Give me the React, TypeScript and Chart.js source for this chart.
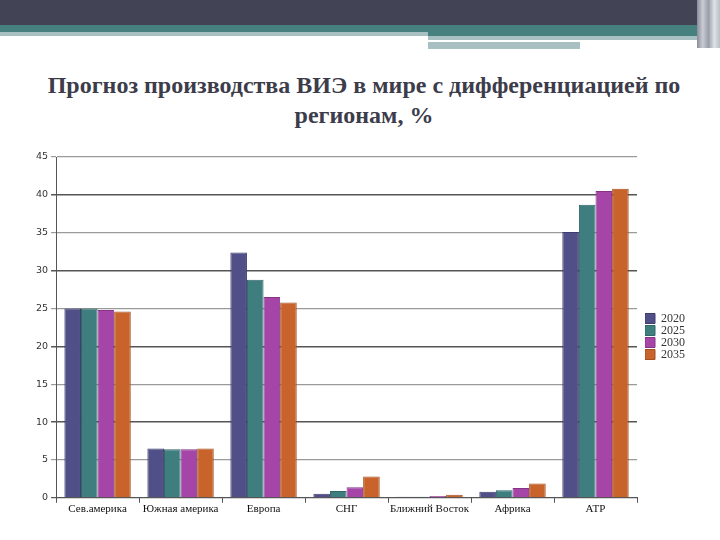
import React, { useEffect, useRef } from "react";
import { Chart, registerables } from "chart.js";

Chart.register(...registerables);

const categories = ["Сев.америка", "Южная америка", "Европа", "СНГ", "Ближний Восток", "Африка", "АТР"];
const seriesNames = ["2020", "2025", "2030", "2035"];
const v2020 = [25.0, 6.5, 32.4, 0.55, 0.15, 0.8, 35.1];
const v2025 = [25.0, 6.4, 28.8, 0.9, 0.15, 1.0, 38.7];
const v2030 = [24.8, 6.4, 26.5, 1.4, 0.25, 1.3, 40.5];
const v2035 = [24.6, 6.5, 25.8, 2.8, 0.4, 1.9, 40.8];
const fills = ["#514f87", "#3f7e7e", "#a545a8", "#c8632b"];
const borders = ["#3e3c6e", "#2f6666", "#873388", "#a44f22"];
const title1 = "Прогноз производства ВИЭ в мире с дифференциацией по";
const title2 = "регионам, %";

const LEGEND_GAP = 8;

const legendGap = {
  id: "legendGap",
  beforeInit(chart: any) {
    const lg = chart.legend;
    if (!lg) return;
    const orig = lg.fit;
    lg.fit = function () {
      orig.call(this);
      this.width += LEGEND_GAP;
    };
  },
  afterLayout(chart: any) {
    if (chart.legend) chart.legend.left += LEGEND_GAP;
  },
};

export default function App() {
  const ref = useRef<HTMLCanvasElement>(null);
  useEffect(() => {
    document.body.style.margin = "0";
    const values = [v2020, v2025, v2030, v2035];
    const chart = new Chart(ref.current!, {
      type: "bar",
      plugins: [legendGap],
      data: {
        labels: categories,
        datasets: seriesNames.map((n, i) => ({
          label: n,
          data: values[i],
          backgroundColor: fills[i],
          borderColor: borders[i],
          borderWidth: 1,
          categoryPercentage: 0.8,
          barPercentage: 1.0,
        })),
      },
      options: {
        animation: false,
        responsive: false,
        maintainAspectRatio: false,
        layout: { padding: { left: 33, top: 17, right: 25, bottom: 24 } },
        plugins: {
          title: { display: false },
          tooltip: { enabled: false },
          legend: {
            position: "right",
            labels: {
              boxWidth: 10,
              boxHeight: 10,
              padding: 0,
              color: "#333",
              font: { family: "Liberation Serif", size: 12, lineHeight: 1 },
            },
          },
        },
        scales: {
          x: {
            grid: { display: true, drawOnChartArea: false, offset: true, tickLength: 5, color: "#555" },
            border: { color: "#555", width: 1 },
            ticks: { color: "#111", font: { family: "Liberation Serif", size: 11 }, padding: 0, maxRotation: 0, autoSkip: false },
          },
          y: {
            min: 0,
            max: 45,
            grid: {
              color: (c: any) => (c.tick && c.tick.value % 10 === 0 ? "#555" : "#9a9a9a"),
              lineWidth: (c: any) => (c.tick && c.tick.value % 10 === 0 && c.tick.value !== 0 ? 1.5 : 1.2),
              tickLength: 5,
            },
            border: { color: "#555", width: 1 },
            ticks: { stepSize: 5, color: "#333", font: { family: "DejaVu Sans", size: 9.5 }, padding: 3 },
          },
        },
      },
    });
    return () => chart.destroy();
  }, []);

  return (
    <div style={{ position: "fixed", left: 0, top: 0, width: 720, height: 540, background: "#fff", overflow: "hidden" }}>
      <div style={{ position: "absolute", left: 0, top: 0, width: 720, height: 25, background: "#434356" }} />
      <div style={{ position: "absolute", left: 0, top: 25, width: 428, height: 7, background: "#46807f" }} />
      <div style={{ position: "absolute", left: 0, top: 32, width: 428, height: 4, background: "#a9c0c3" }} />
      <div style={{ position: "absolute", left: 428, top: 25, width: 292, height: 11, background: "#46807f" }} />
      <div style={{ position: "absolute", left: 428, top: 36, width: 280, height: 4, background: "#a9c0c3" }} />
      <div style={{ position: "absolute", left: 428, top: 40, width: 240, height: 2, background: "#fff" }} />
      <div style={{ position: "absolute", left: 428, top: 42, width: 152, height: 7, background: "#a9c0c3" }} />
      <div style={{ position: "absolute", left: 697, top: 0, width: 23, height: 48, background: "linear-gradient(90deg,#8a8d9a,#c9ccd3,#9a9eaa,#dfe3e6,#b8bec4)" }} />
      <div style={{ position: "absolute", left: 0, top: 70, width: 728, textAlign: "center", fontFamily: "Liberation Serif", fontWeight: "bold", fontSize: 24, lineHeight: "30px", color: "#3c3c4a" }}>
        <div>{title1}</div>
        <div>{title2}</div>
      </div>
      <canvas ref={ref} width={720} height={400} style={{ position: "absolute", left: 0, top: 140, width: 720, height: 400 }} />
    </div>
  );
}
